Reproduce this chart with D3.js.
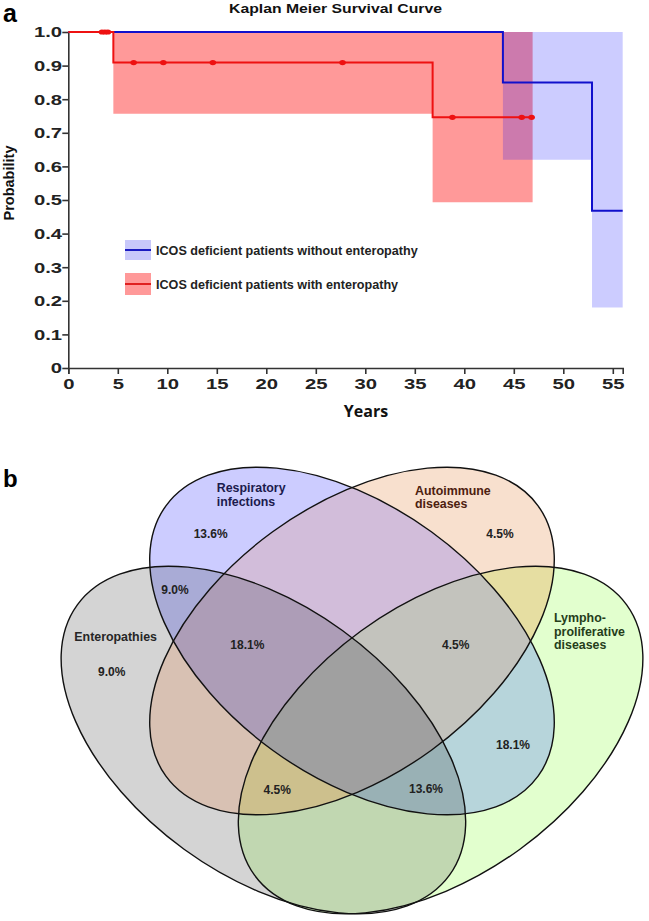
<!DOCTYPE html>
<html>
<head>
<meta charset="utf-8">
<script src="https://cdn.jsdelivr.net/npm/d3@7"></script>
<style>
  body { margin: 0; background: #fff; }
  svg { display: block; font-family: "Liberation Sans", Arial, sans-serif; }
</style>
</head>
<body>
<svg id="chart" width="649" height="921"></svg>
<script>
// ---------- panel a : Kaplan Meier data ----------
const xTickValues = [0, 5, 10, 15, 20, 25, 30, 35, 40, 45, 50, 55]
const yTickValues = [0, 0.1, 0.2, 0.3, 0.4, 0.5, 0.6, 0.7, 0.8, 0.9, 1.0]

// group without enteropathy (blue)
const blueTimes = [0, 43.9, 52.9]
const blueSurv = [1, 0.85, 0.468]
const blueLower = [1, 0.62, 0.18]
const blueUpper = [1, 1, 1]
const blueEnd = 56

// group with enteropathy (red)
const redTimes = [0, 4.55, 36.8]
const redSurv = [1, 0.909, 0.746]
const redLower = [1, 0.757, 0.493]
const redUpper = [1, 1, 1]
const redEnd = 46.9
const redCensored = [3.4, 3.7, 4.0, 6.6, 9.6, 14.6, 27.7, 38.8, 45.8, 46.8]

const legendLabels = [
  'ICOS deficient patients without enteropathy',
  'ICOS deficient patients with enteropathy',
]

// ---------- panel b : Venn data ----------
const vennKeys = ['G', 'B', 'O', 'L']
const vennNames = [
  ['Enteropathies'],
  ['Respiratory', 'infections'],
  ['Autoimmune', 'diseases'],
  ['Lympho-', 'proliferative', 'diseases'],
]
const vennRegions = ['B', 'O', 'G', 'L', 'BO', 'BG', 'OL', 'GO', 'BL', 'GL', 'BOG', 'BOL', 'GOL', 'GBL', 'GBOL']
const pctRegions = ['B', 'O', 'G', 'BG', 'BOG', 'BOL', 'BL', 'GOL', 'GBL']
const pctValues = [13.6, 4.5, 9.0, 9.0, 18.1, 4.5, 18.1, 4.5, 13.6]

// ---------- layout ----------
const svg = d3.select('#chart')
const x = d3.scaleLinear().domain([0, 56]).range([68.3, 622.7])
const y = d3.scaleLinear().domain([0, 1]).range([368, 32])

svg.append('text').text('a')
  .attr('x', 3).attr('y', 22)
  .style('font-size', '25px').style('font-weight', 'bold')

svg.append('text').text('Kaplan Meier Survival Curve')
  .attr('x', 229).attr('y', 13.3)
  .attr('textLength', 213).attr('lengthAdjust', 'spacingAndGlyphs')
  .style('font-size', '13.5px').style('font-weight', 'bold').attr('fill', '#111')

// step data built from the arrays
const steps = (times, vals, end) =>
  times.map((t, i) => [t, vals[i]]).concat([[end, vals[vals.length - 1]]])
const bands = (times, lo, hi, end) =>
  times.map((t, i) => [t, lo[i], hi[i]]).concat([[end, lo[lo.length - 1], hi[hi.length - 1]]])
const survAt = (times, vals, t) => vals[d3.bisectRight(times, t) - 1]

const area = d3.area().curve(d3.curveStepAfter)
  .x(d => x(d[0])).y0(d => y(d[1])).y1(d => y(d[2]))
const line = d3.line().curve(d3.curveStepAfter)
  .x(d => x(d[0])).y(d => y(d[1]))

// confidence bands
svg.append('path').datum(bands(redTimes, redLower, redUpper, redEnd))
  .attr('d', area).attr('fill', '#ff9999')
svg.append('path').datum(bands(blueTimes, blueLower, blueUpper, blueEnd))
  .attr('d', area).attr('fill', '#0000ff').attr('fill-opacity', 0.2)

// axes
const yAxis = svg.append('g').attr('transform', `translate(${x(0)},0)`)
  .call(d3.axisLeft(y).tickValues(yTickValues).tickSize(6).tickSizeOuter(0)
    .tickFormat(d => d === 0 ? '0' : d3.format('.1f')(d)))
const xAxis = svg.append('g').attr('transform', `translate(0,${y(0)})`)
  .call(d3.axisBottom(x).tickValues(xTickValues).tickSize(6).tickSizeOuter(6).tickPadding(4))
;[xAxis, yAxis].forEach(a => {
  a.selectAll('path, line').attr('stroke', '#333').attr('stroke-width', 1.6)
  a.selectAll('text').attr('fill', '#222')
    .style('font-size', '15px').style('font-weight', 'bold')
    .style('font-family', '"Liberation Sans", Arial, sans-serif')
})
yAxis.selectAll('text').attr('x', -4.6).attr('transform', 'scale(1.35,1)')
xAxis.selectAll('text').attr('transform', 'scale(1.35,1)')

svg.append('text').text('Probability')
  .attr('transform', 'translate(14,183) rotate(-90)')
  .attr('text-anchor', 'middle')
  .style('font-size', '14.5px').style('font-weight', 'bold').attr('fill', '#111')

svg.append('text').text('Years')
  .attr('x', 366).attr('y', 417)
  .attr('text-anchor', 'middle')
  .style('font-family', '"Open Sans", sans-serif')
  .style('font-size', '16px').style('font-weight', 'bold').attr('fill', '#111')

// survival lines
svg.append('path').datum(steps(blueTimes, blueSurv, blueEnd))
  .attr('d', line).attr('fill', 'none').attr('stroke', '#1010cc').attr('stroke-width', 2)
svg.append('path').datum(steps(redTimes, redSurv, redEnd))
  .attr('d', line).attr('fill', 'none').attr('stroke', '#ee1111').attr('stroke-width', 2)

svg.append('g').selectAll('ellipse')
  .data(redCensored).enter().append('ellipse')
  .attr('cx', d => x(d)).attr('cy', d => y(survAt(redTimes, redSurv, d)))
  .attr('rx', 3.3).attr('ry', 2.6).attr('fill', '#ee1111')

// legend
const legendStyle = [
  { fill: '#c8c8fa', stroke: '#1a1ac0', y: 240, h: 20 },
  { fill: '#ff9999', stroke: '#e02020', y: 273, h: 22 },
]
const legend = svg.append('g').selectAll('g')
  .data(legendLabels).enter().append('g')
legend.append('rect')
  .attr('x', 125).attr('width', 26)
  .attr('y', (d, i) => legendStyle[i].y).attr('height', (d, i) => legendStyle[i].h)
  .attr('fill', (d, i) => legendStyle[i].fill)
legend.append('line')
  .attr('x1', 125).attr('x2', 151)
  .attr('y1', (d, i) => legendStyle[i].y + legendStyle[i].h / 2)
  .attr('y2', (d, i) => legendStyle[i].y + legendStyle[i].h / 2)
  .attr('stroke', (d, i) => legendStyle[i].stroke).attr('stroke-width', 2)
legend.append('text').text(d => d)
  .attr('x', 156).attr('y', (d, i) => legendStyle[i].y + legendStyle[i].h / 2 + 4.5)
  .style('font-size', '12.6px').style('font-weight', 'bold').attr('fill', '#222')

// ---------- panel b : Venn ----------
svg.append('text').text('b')
  .attr('x', 3).attr('y', 487)
  .style('font-size', '24px').style('font-weight', 'bold')

const RX = 230, RY = 135
const ellipses = {
  G: { cx: 263.4, cy: 740, rot: 36 },
  L: { cx: 440.6, cy: 740, rot: -36 },
  B: { cx: 352, cy: 641, rot: 36 },
  O: { cx: 352, cy: 641, rot: -36 },
}
const regionColor = {
  B: '#ccccff', O: '#f8e0ce', G: '#d4d4d4', L: '#e2ffce',
  BO: '#d2bdda', BG: '#a9abd6', OL: '#e6dea2', GO: '#d8c1b3',
  BL: '#b7d5db', GL: '#c1d7b1', BOG: '#ad9db7', BOL: '#c3c3bd',
  GOL: '#cdc08d', GBL: '#99b1b5', GBOL: '#a0a0a0',
}
const shapeEllipse = (sel, k) => sel
  .attr('cx', ellipses[k].cx).attr('cy', ellipses[k].cy)
  .attr('rx', RX).attr('ry', RY)
  .attr('transform', `rotate(${ellipses[k].rot},${ellipses[k].cx},${ellipses[k].cy})`)

const defs = svg.append('defs')
vennKeys.forEach(k => {
  defs.append('clipPath').attr('id', 'clip-' + k)
    .append('ellipse').call(shapeEllipse, k)
})

const venn = svg.append('g')
vennRegions.forEach(r => {
  const inc = r.split('')
  const exc = vennKeys.filter(k => !inc.includes(k))
  const mask = defs.append('mask').attr('id', 'mask-' + r)
    .attr('maskUnits', 'userSpaceOnUse')
    .attr('x', 0).attr('y', 430).attr('width', 649).attr('height', 491)
  mask.append('rect').attr('x', 0).attr('y', 430).attr('width', 649).attr('height', 491).attr('fill', '#fff')
  exc.forEach(k => mask.append('ellipse').call(shapeEllipse, k).attr('fill', '#000'))
  let g = venn
  inc.forEach(k => { g = g.append('g').attr('clip-path', `url(#clip-${k})`) })
  g.append('rect').attr('x', 0).attr('y', 430).attr('width', 649).attr('height', 491)
    .attr('fill', regionColor[r]).attr('mask', `url(#mask-${r})`)
})

venn.append('g').selectAll('ellipse')
  .data(vennKeys).enter().append('ellipse')
  .each(function (k) { d3.select(this).call(shapeEllipse, k) })
  .attr('fill', 'none').attr('stroke', '#111').attr('stroke-width', 1.4)

// set names
const namePos = {
  G: { x: 74.3, y: 640.5, lh: 13.5, color: '#262626' },
  B: { x: 216.7, y: 492, lh: 13.5, color: '#1b1b4d' },
  O: { x: 415, y: 494.5, lh: 13.5, color: '#4d200f' },
  L: { x: 554, y: 622, lh: 13.5, color: '#253d1a' },
}
const names = venn.append('g').selectAll('text')
  .data(vennKeys).enter().append('text')
  .attr('x', k => namePos[k].x).attr('y', k => namePos[k].y)
  .attr('fill', k => namePos[k].color)
  .style('font-size', '12.4px').style('font-weight', 'bold')
names.selectAll('tspan')
  .data((k, i) => vennNames[i].map(s => ({ s, k })))
  .enter().append('tspan')
  .attr('x', d => namePos[d.k].x)
  .attr('dy', (d, i) => i === 0 ? 0 : namePos[d.k].lh)
  .text(d => d.s)

// percentages
const pctPos = {
  B: [210.7, 534], O: [500, 533.3], G: [111.7, 671.7], BG: [175, 589.3],
  BOG: [247.3, 645], BOL: [455.7, 645], BL: [513, 745], GOL: [277.3, 789.3], GBL: [426, 789],
}
venn.append('g').selectAll('text')
  .data(pctRegions).enter().append('text')
  .attr('x', r => pctPos[r][0]).attr('y', r => pctPos[r][1] + 4.3)
  .attr('text-anchor', 'middle')
  .attr('fill', '#222')
  .style('font-size', '12px').style('font-weight', 'bold')
  .text((r, i) => d3.format('.1f')(pctValues[i]) + '%')
</script>
</body>
</html>
